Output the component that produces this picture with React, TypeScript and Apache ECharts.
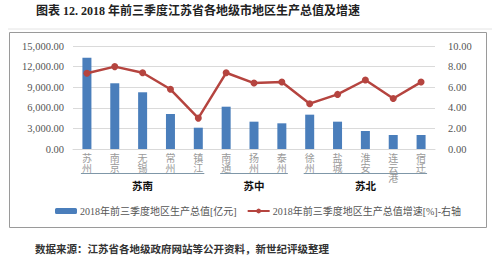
import React, { useEffect, useRef } from "react";
import * as echarts from "echarts";

const categories = ["苏州", "南京", "无锡", "常州", "镇江", "南通", "扬州", "泰州", "徐州", "盐城", "淮安", "连云港", "宿迁"];
const gdpValues = [13300, 9570, 8260, 5100, 3100, 6160, 3980, 3740, 5000, 3980, 2620, 2040, 2040];
const growthValues = [7.35, 8.0, 7.4, 5.8, 3.0, 7.4, 6.4, 6.5, 4.4, 5.3, 6.7, 4.9, 6.5];
const groups = [
  { name: "苏南", from: "苏州", to: "镇江" },
  { name: "苏中", from: "南通", to: "泰州" },
  { name: "苏北", from: "徐州", to: "宿迁" },
];
const barName = "2018年前三季度地区生产总值[亿元]";
const lineName = "2018年前三季度地区生产总值增速[%]-右轴";
const titleText = "图表 12. 2018 年前三季度江苏省各地级市地区生产总值及增速";
const sourceText = "数据来源：江苏省各地级政府网站等公开资料，新世纪评级整理";

const FONT = "'Liberation Serif', 'Noto Sans CJK SC', serif";

export default function App() {
  const ref = useRef<HTMLDivElement>(null);
  useEffect(() => {
    if (!ref.current) return;
    const chart = echarts.init(ref.current, null, { renderer: "svg" });
    chart.setOption({
      animation: false,
      backgroundColor: "#ffffff",
      textStyle: { fontFamily: FONT },
      grid: { left: 73, right: 65, top: 46, bottom: 108, containLabel: false },
      legend: {
        left: 50,
        top: 201,
        itemWidth: 22,
        itemHeight: 6,
        itemGap: 10,
        textStyle: { fontSize: 10, color: "#555", fontFamily: FONT, padding: [0, 0, 0, -2] },
        data: [barName, lineName],
      },
      xAxis: {
        type: "category",
        data: categories,
        axisTick: { show: false },
        axisLine: { show: true, lineStyle: { color: "#d9d9d9" } },
        axisLabel: {
          interval: 0,
          margin: 4,
          fontSize: 10,
          lineHeight: 10,
          color: "#9a9a9a",
          fontFamily: FONT,
          formatter: (v: string) => v.split("").join("\n"),
        },
      },
      yAxis: [
        {
          type: "value",
          min: 0,
          max: 15000,
          interval: 3000,
          axisLine: { show: false },
          axisTick: { show: false },
          splitLine: { lineStyle: { color: "#dadada" } },
          axisLabel: {
            margin: 9,
            fontSize: 10.5,
            color: "#555",
            fontFamily: FONT,
            formatter: (v: number) =>
              v.toLocaleString("en-US", { minimumFractionDigits: 2, maximumFractionDigits: 2 }),
          },
        },
        {
          type: "value",
          min: 0,
          max: 10,
          interval: 2,
          axisLine: { show: false },
          axisTick: { show: false },
          splitLine: { show: false },
          axisLabel: {
            margin: 13,
            fontSize: 10.5,
            color: "#555",
            fontFamily: FONT,
            formatter: (v: number) => v.toFixed(2),
          },
        },
      ],
      series: [
        {
          name: barName,
          type: "bar",
          data: gdpValues,
          barWidth: 9,
          itemStyle: { color: "#4A7EBB" },
        },
        {
          name: lineName,
          type: "line",
          yAxisIndex: 1,
          data: growthValues,
          symbol: "circle",
          symbolSize: 7,
          lineStyle: { color: "#B5443F", width: 2.5 },
          itemStyle: { color: "#B5443F" },
        },
      ],
    });

    const px = (name: string) => chart.convertToPixel({ xAxisIndex: 0 }, name) as number;
    const groupGraphics: any[] = [];
    groups.forEach((g) => {
      const x1 = px(g.from) - 6;
      const x2 = px(g.to) + 6;
      groupGraphics.push({
        type: "line",
        shape: { x1, y1: 173.5, x2, y2: 173.5 },
        style: { stroke: "#7f97a8", lineWidth: 1.2 },
      });
      groupGraphics.push({
        type: "text",
        x: (x1 + x2) / 2,
        y: 186,
        style: {
          text: g.name,
          fontSize: 10.5,
          fontWeight: "bold",
          fill: "#111",
          fontFamily: FONT,
          align: "center",
          verticalAlign: "middle",
        },
      });
    });

    chart.setOption({
      graphic: [
        {
          type: "text",
          x: 36,
          y: 11,
          style: {
            text: titleText,
            fontSize: 12,
            fontWeight: "bold",
            fill: "#222",
            fontFamily: FONT,
            verticalAlign: "middle",
          },
        },
        {
          type: "line",
          shape: { x1: 8, y1: 29, x2: 492, y2: 29 },
          style: { stroke: "#e4e4e4", lineWidth: 1 },
        },
        {
          type: "rect",
          shape: { x: 9.5, y: 32.5, width: 477, height: 195 },
          style: { fill: "none", stroke: "#9a9a9a", lineWidth: 1 },
        },
        ...groupGraphics,
        {
          type: "text",
          x: 35,
          y: 249,
          style: {
            text: sourceText,
            fontSize: 10.5,
            fontWeight: "bold",
            fill: "#333",
            fontFamily: FONT,
            verticalAlign: "middle",
          },
        },
      ],
    });

    return () => chart.dispose();
  }, []);
  return (
    <div
      ref={ref}
      style={{ position: "absolute", left: 0, top: 0, width: 500, height: 257 }}
    />
  );
}
